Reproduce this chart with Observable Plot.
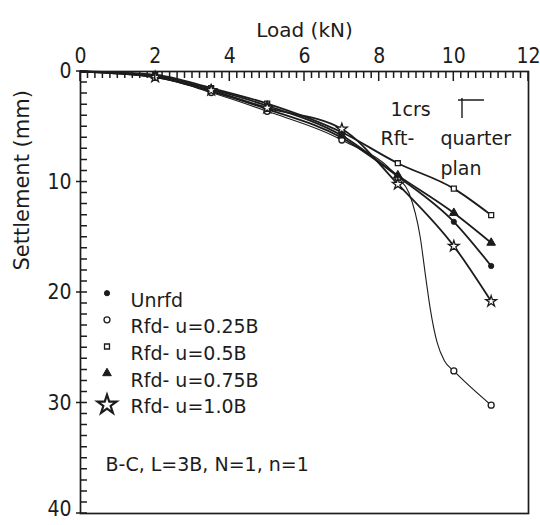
<!DOCTYPE html>
<html><head><meta charset="utf-8">
<script src="https://cdn.jsdelivr.net/npm/d3@7"></script>
<script src="https://cdn.jsdelivr.net/npm/@observablehq/plot@0.6"></script>
<style>
html,body{margin:0;padding:0;background:#fff;}
#chart{width:540px;height:525px;}
</style></head><body><div id="chart"></div>
<script>
// ---- data ----
const load   = [0, 2, 3.5, 5, 7, 8.5, 10, 11];              // Load (kN)
const unrfd  = [0, 0.5, 1.8, 3.4, 6.0, 9.5, 13.6, 17.6];     // Settlement (mm)
const u025   = [0, 0.5, 1.9, 3.6, 6.2, 9.6, 27.1, 30.2];
const u050   = [0, 0.3, 1.5, 2.9, 5.5, 8.3, 10.6, 13.0];
const u075   = [0, 0.4, 1.6, 3.1, 5.8, 9.4, 12.8, 15.5];
const u100   = [0, 0.5, 1.7, 3.3, 5.2, 10.2, 15.8, 20.8];
// drawn path of the u=0.25B curve
const u025TraceLoad   = [0, 2, 3.5, 5, 7, 8.5, 8.8, 9.1, 9.25, 9.37, 9.55, 9.75, 10, 11];
const u025TraceSettle = [0, 0.5, 1.9, 3.6, 6.2, 9.6, 11.0, 15.0, 18.7, 21.5, 24.5, 26.2, 27.1, 30.2];
const seriesNames = ["Unrfd", "Rfd- u=0.25B", "Rfd- u=0.5B", "Rfd- u=0.75B", "Rfd- u=1.0B"];
const xTicks = [0, 2, 4, 6, 8, 10, 12];
const yTicks = [0, 10, 20, 30, 40];
const xMinor = d3.range(0, 12.001, 0.2);
const yMinor = d3.range(0, 40.001, 1);

const ink = "#1c1c1c";
const values = [unrfd, u025, u050, u075, u100];
const styles = [
  {symbol: "circle",   r: 2.6, fill: ink,    stroke: ink, strokeWidth: 1},
  {symbol: "circle",   r: 3,   fill: "white", stroke: ink, strokeWidth: 1.3},
  {symbol: "square",   r: 2.8, fill: "white", stroke: ink, strokeWidth: 1.3},
  {symbol: "triangle", r: 3.2, fill: ink,    stroke: ink, strokeWidth: 1},
  {symbol: "star",     r: 3.4, fill: "white", stroke: ink, strokeWidth: 1.3}
];
const rows = seriesNames.map((s, k) => load.map((l, i) => ({series: s, load: l, settle: values[k][i]})));
const trace = u025TraceLoad.map((l, i) => ({load: l, settle: u025TraceSettle[i]}));

const font = "'DejaVu Sans', sans-serif";
const tickFont = "'Liberation Sans Narrow', 'DejaVu Sans Condensed', 'DejaVu Sans', sans-serif";

const W = 540, H = 525, ML = 80, MR = 12, MT = 71, MB = 12;

const marks = [];
// lines
[0, 2, 3, 4].forEach(k => marks.push(Plot.line(rows[k], {x: "load", y: "settle", curve: "monotone-x", stroke: ink, strokeWidth: 1.8})));
marks.push(Plot.line(trace, {x: "load", y: "settle", curve: "monotone-x", stroke: ink, strokeWidth: 1.1}));
// markers (skip origin)
rows.forEach((r, k) => marks.push(Plot.dot(r.filter(d => d.load > 0), {x: "load", y: "settle", ...styles[k]})));

marks.push(
  Plot.axisX({anchor: "top", ticks: xTicks, tickSize: 0, tickPadding: 9, fontSize: 21, fontFamily: tickFont, label: null}),
  Plot.axisY({anchor: "left", ticks: yTicks.slice(0, 4), tickSize: 0, tickPadding: 9, fontSize: 21, fontFamily: tickFont, label: null}),
  Plot.axisY({anchor: "left", ticks: yTicks.slice(4), tickSize: 0, tickPadding: 9, dy: -4, fontSize: 21, fontFamily: tickFont, label: null}),
  Plot.frame({stroke: ink, strokeWidth: 1.7})
);

// inward tick marks, placed through the chart's own scales (drawn after the frame)
marks.push((index, scales, vals, dims) => {
  const fw = dims.width - dims.marginLeft - dims.marginRight;
  const fh = dims.height - dims.marginTop - dims.marginBottom;
  const sx = typeof scales.x === "function" ? scales.x : v => dims.marginLeft + v / 12 * fw;
  const sy = typeof scales.y === "function" ? scales.y : v => dims.marginTop + v / 40 * fh;
  const x0 = dims.marginLeft, y0 = dims.marginTop;
  let d = "";
  xMinor.forEach(v => { d += `M${sx(v).toFixed(1)},${y0}v7`; });
  xTicks.forEach(v => { d += `M${sx(v).toFixed(1)},${y0}v10`; });
  yMinor.forEach(v => { d += `M${x0},${sy(v).toFixed(1)}h7`; });
  yTicks.forEach(v => { d += `M${x0 - 4},${sy(v).toFixed(1)}h4`; });
  const p = document.createElementNS("http://www.w3.org/2000/svg", "path");
  p.setAttribute("d", d);
  p.setAttribute("stroke", ink);
  p.setAttribute("stroke-width", "1.5");
  p.setAttribute("fill", "none");
  return p;
});

// axis titles
marks.push(
  Plot.text(["Load (kN)"], {frameAnchor: "top", dy: -49, fontSize: 20, fontFamily: font, fill: ink}),
  Plot.text(["Settlement (mm)"], {frameAnchor: "left", rotate: -90, dx: -58, dy: -22, fontSize: 21, fontFamily: font, fill: ink})
);

// legend
const legendDy = [221.7, 248.3, 275, 301.7, 328.3];
seriesNames.forEach((s, k) => {
  const st = {...styles[k]};
  if (k === 4) { st.r = 6; st.strokeWidth = 2.2; }
  marks.push(Plot.dot([s], {frameAnchor: "top-left", dx: 26.5, dy: legendDy[k] + (k === 4 ? 5 : 0), ...st}));
  marks.push(Plot.text([s], {frameAnchor: "top-left", textAnchor: "start", dx: 50, dy: legendDy[k], fontSize: 19, fontFamily: font, fill: ink}));
});

// annotations
marks.push(
  Plot.text(["1crs"], {frameAnchor: "top-left", textAnchor: "start", dx: 310, dy: 31, fontSize: 19, fontFamily: font, fill: ink}),
  Plot.text(["Rft-"], {frameAnchor: "top-left", textAnchor: "start", dx: 300, dy: 60, fontSize: 19, fontFamily: font, fill: ink}),
  Plot.text(["quarter"], {frameAnchor: "top-left", textAnchor: "start", dx: 360, dy: 60, fontSize: 19, fontFamily: font, fill: ink}),
  Plot.text(["plan"], {frameAnchor: "top-left", textAnchor: "start", dx: 360, dy: 90, fontSize: 19, fontFamily: font, fill: ink}),
  Plot.text(["B-C, L=3B, N=1, n=1"], {frameAnchor: "top-left", textAnchor: "start", dx: 25, dy: 386, fontSize: 19, fontFamily: font, fill: ink, style: "letter-spacing:0.8px"}),
  (index, scales, vals, dims) => {
    const x0 = dims.marginLeft, y0 = dims.marginTop;
    const p = document.createElementNS("http://www.w3.org/2000/svg", "path");
    p.setAttribute("d", `M${x0 + 378},${y0 + 29}H${x0 + 404}M${x0 + 382},${y0 + 27}V${y0 + 47}`);
    p.setAttribute("stroke", ink);
    p.setAttribute("stroke-width", "1.4");
    p.setAttribute("fill", "none");
    return p;
  }
);

const chart = Plot.plot({
  width: W,
  height: H,
  marginLeft: ML,
  marginRight: MR,
  marginTop: MT,
  marginBottom: MB,
  style: {background: "white", fontFamily: font, color: ink},
  x: {domain: [0, 12], axis: null},
  y: {domain: [0, 40], reverse: true, axis: null},
  marks
});
document.getElementById("chart").appendChild(chart);
</script>
</body></html>
